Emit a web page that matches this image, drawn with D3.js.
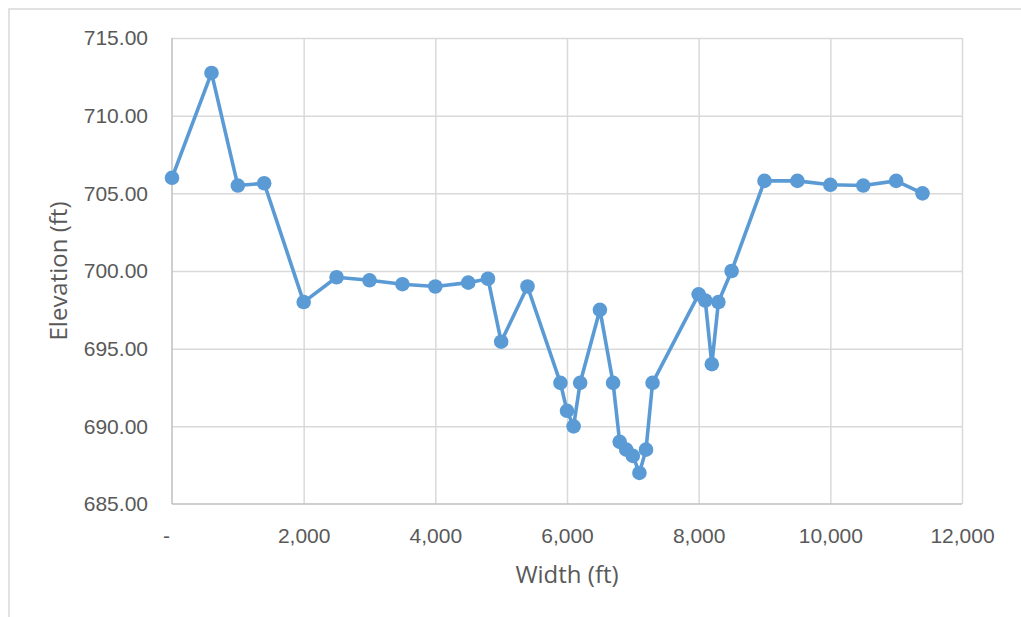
<!DOCTYPE html>
<html>
<head>
<meta charset="utf-8">
<script src="https://cdn.jsdelivr.net/npm/d3@7"></script>
<style>
  body { margin: 0; background: #fff; }
  svg { display: block; font-family: 'Open Sans', sans-serif; }
  .grid line { stroke: #d9d9d9; stroke-width: 1.5; }
  .grid .domain { display: none; }
  .axis text { fill: #595959; font-size: 21px; }
  .axis .domain { display: none; }
  .label { fill: #595959; font-size: 24px; }
</style>
</head>
<body>
<script>
// cross section: distance across (ft) vs ground elevation (ft)
const widths = [0, 600, 1000, 1400, 2000, 2500, 3000, 3500, 4000, 4500, 4800, 5000,
  5400, 5900, 6000, 6100, 6200, 6500, 6700, 6800, 6900, 7000, 7100, 7200, 7300,
  8000, 8100, 8200, 8300, 8500, 9000, 9500, 10000, 10500, 11000, 11400];
const elevations = [706.0, 712.75, 705.5, 705.65, 698.0, 699.6, 699.4, 699.15, 699.0,
  699.25, 699.5, 695.45, 699.0, 692.8, 691.0, 690.0, 692.8, 697.5, 692.8, 689.0,
  688.5, 688.1, 687.0, 688.5, 692.8, 698.5, 698.1, 694.0, 698.0, 700.0, 705.8,
  705.8, 705.55, 705.5, 705.8, 705.0];
const xTicks = [0, 2000, 4000, 6000, 8000, 10000, 12000];
const yTicks = [685, 690, 695, 700, 705, 710, 715];

const margin = {
  top: 38, right: 59, bottom: 113, left: 172,
};
const width = 1021 - margin.left - margin.right;
const height = 617 - margin.top - margin.bottom;

const root = d3.select('body')
  .append('svg')
  .attr('width', 1021)
  .attr('height', 617);

// chart area border (runs off the right and bottom of the picture)
root.append('rect')
  .attr('x', 9)
  .attr('y', 9)
  .attr('width', 1100)
  .attr('height', 700)
  .style('fill', 'none')
  .style('stroke', '#d9d9d9')
  .style('stroke-width', 1.5);

const svg = root.append('g')
  .attr('transform', `translate(${margin.left},${margin.top})`);

const data = widths.map((w, i) => ({ width: w, elevation: elevations[i] }));

const xScale = d3.scaleLinear()
  .domain([0, 12000])
  .range([0, width]);

const yScale = d3.scaleLinear()
  .domain([685, 715])
  .range([height, 0]);

// gridlines
svg.append('g')
  .attr('class', 'grid')
  .call(d3.axisLeft(yScale).tickValues(yTicks.slice(1)).tickSize(-width).tickFormat(''));

svg.append('g')
  .attr('class', 'grid')
  .attr('transform', `translate(0,${height})`)
  .call(d3.axisBottom(xScale).tickValues(xTicks.slice(1)).tickSize(-height).tickFormat(''));

// axis lines
svg.append('line')
  .attr('x1', 0).attr('x2', 0)
  .attr('y1', 0).attr('y2', height)
  .style('stroke', '#bfbfbf')
  .style('stroke-width', 1.5);

svg.append('line')
  .attr('x1', 0).attr('x2', width)
  .attr('y1', height).attr('y2', height)
  .style('stroke', '#bfbfbf')
  .style('stroke-width', 1.5);

const xAxis = d3.axisBottom(xScale)
  .tickValues(xTicks)
  .tickSize(0)
  .tickPadding(24)
  .tickFormat((d) => (d === 0 ? '-' : d3.format(',')(d)));

const yAxis = d3.axisLeft(yScale)
  .tickValues(yTicks)
  .tickSize(0)
  .tickPadding(24)
  .tickFormat(d3.format('.2f'));

svg.append('g')
  .attr('class', 'x axis')
  .attr('transform', `translate(0,${height})`)
  .call(xAxis)
  .selectAll('text')
  .attr('dx', (d) => (d === 0 ? -6 : 0));

svg.append('g')
  .attr('class', 'y axis')
  .call(yAxis);

const line = d3.line()
  .x((d) => xScale(d.width))
  .y((d) => yScale(d.elevation));

svg.append('path')
  .datum(data)
  .attr('d', line)
  .style('fill', 'none')
  .style('stroke', '#5b9bd5')
  .style('stroke-width', 3.6)
  .style('stroke-linejoin', 'round');

svg.selectAll('.dot')
  .data(data)
  .enter().append('circle')
  .attr('class', 'dot')
  .attr('cx', (d) => xScale(d.width))
  .attr('cy', (d) => yScale(d.elevation))
  .attr('r', 7.3)
  .style('fill', '#5b9bd5');

svg.append('text')
  .attr('class', 'label')
  .attr('x', width / 2)
  .attr('y', height + 79)
  .attr('text-anchor', 'middle')
  .text('Width (ft)');

svg.append('text')
  .attr('class', 'label')
  .attr('transform', `translate(${67 - margin.left},${height / 2}) rotate(-90)`)
  .attr('text-anchor', 'middle')
  .text('Elevation (ft)');
</script>
</body>
</html>
